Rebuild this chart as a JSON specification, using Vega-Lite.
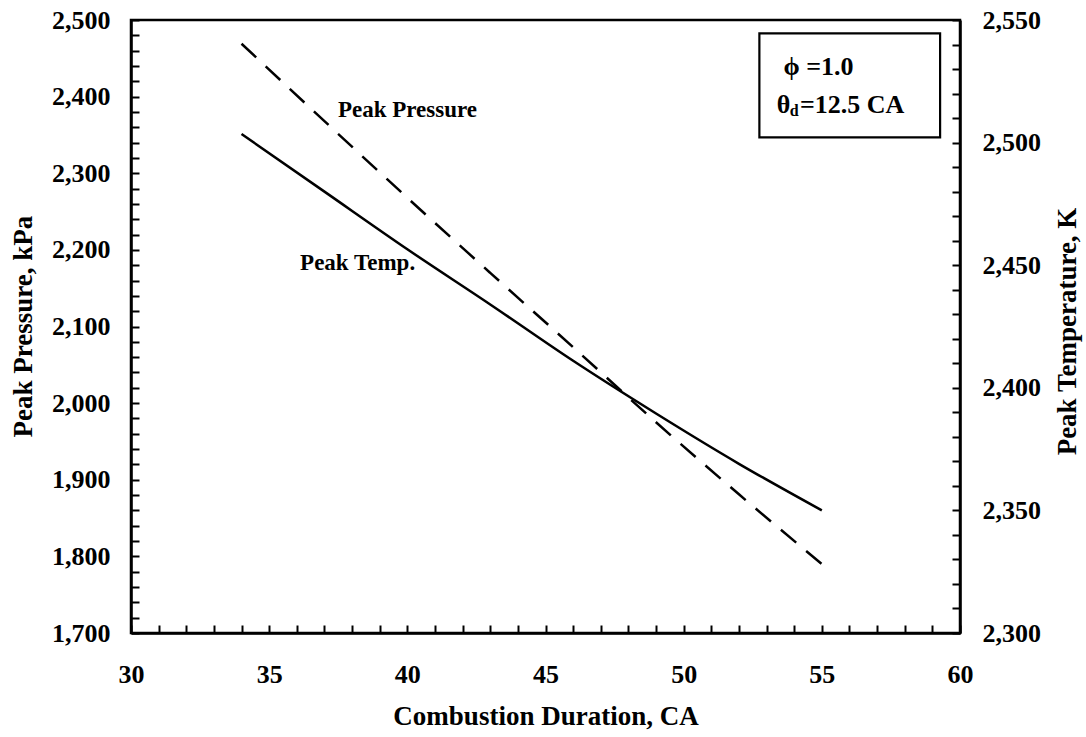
{
  "$schema": "https://vega.github.io/schema/vega-lite/v6.json",
  "width": 829,
  "height": 613,
  "autosize": "none",
  "padding": {"left": 131, "top": 20, "right": 126, "bottom": 104},
  "background": "white",
  "config": {
    "view": {"stroke": "black", "strokeWidth": 2.5},
    "font": "Liberation Serif",
    "axis": {
      "labelFont": "Liberation Serif", "labelFontWeight": "bold", "labelFontSize": 26, "labelColor": "black",
      "titleFont": "Liberation Serif", "titleFontWeight": "bold", "titleFontSize": 27, "titleColor": "black",
      "grid": false, "domainColor": "black", "domainWidth": 2.5,
      "tickColor": "black", "tickWidth": 2, "tickSize": -8, "tickCount": 200,
      "labelOverlap": false, "labelFlush": false, "labelBound": false
    }
  },
  "data": {"values": [
    {"duration": 34, "pressure": 2469, "temperature": 2503.5},
    {"duration": 37, "pressure": 2368, "temperature": 2480},
    {"duration": 40, "pressure": 2268, "temperature": 2456.5},
    {"duration": 43, "pressure": 2170, "temperature": 2434},
    {"duration": 46, "pressure": 2073, "temperature": 2411},
    {"duration": 49, "pressure": 1975, "temperature": 2389.5},
    {"duration": 52, "pressure": 1881, "temperature": 2369},
    {"duration": 55, "pressure": 1790, "temperature": 2350}
  ]},
  "layer": [
    {
      "layer": [
        {
          "mark": {"type": "line", "color": "black", "strokeWidth": 2.5, "strokeDash": [20, 13], "interpolate": "monotone"},
          "encoding": {
            "x": {"field": "duration", "type": "quantitative",
              "scale": {"domain": [30, 60], "nice": false, "zero": false},
              "axis": {
                "title": "Combustion Duration, CA",
                "tickCount": 200,
                "values": [30,31,32,33,34,35,36,37,38,39,40,41,42,43,44,45,46,47,48,49,50,51,52,53,54,55,56,57,58,59,60],
                "labelExpr": "datum.value % 5 === 0 ? format(datum.value, 'd') : ''",
                "labelPadding": 36,
                "titleX": 414.5, "titleY": 83, "titleBaseline": "middle", "titleAlign": "center"
              }},
            "y": {"field": "pressure", "type": "quantitative",
              "scale": {"domain": [1700, 2500], "nice": false, "zero": false},
              "axis": {
                "title": "Peak Pressure, kPa",
                "orient": "left",
                "tickCount": 200,
                "values": [1700,1720,1740,1760,1780,1800,1820,1840,1860,1880,1900,1920,1940,1960,1980,2000,2020,2040,2060,2080,2100,2120,2140,2160,2180,2200,2220,2240,2260,2280,2300,2320,2340,2360,2380,2400,2420,2440,2460,2480,2500],
                "labelExpr": "datum.value % 100 === 0 ? format(datum.value, ',') : ''",
                "labelPadding": 29,
                "titleX": -108, "titleY": 306, "titleAngle": 270, "titleBaseline": "middle", "titleAlign": "center"
              }}
          }
        },
        {
          "data": {"values": [{}]},
          "mark": {"type": "rect", "fill": "white", "stroke": "black", "strokeWidth": 2.2},
          "encoding": {
            "x": {"datum": 52.74, "type": "quantitative"},
            "x2": {"datum": 59.28},
            "y": {"datum": 2482.6, "type": "quantitative"},
            "y2": {"datum": 2346.9}
          }
        },
        {
          "data": {"values": [{"label": "Peak Pressure"}]},
          "mark": {"type": "text", "align": "left", "baseline": "middle", "fontSize": 23, "fontWeight": "bold", "font": "Liberation Serif", "color": "black"},
          "encoding": {
            "x": {"datum": 37.49, "type": "quantitative"},
            "y": {"datum": 2382.5, "type": "quantitative"},
            "text": {"field": "label"}
          }
        },
        {
          "data": {"values": [{"label": "Peak Temp."}]},
          "mark": {"type": "text", "align": "left", "baseline": "middle", "fontSize": 23, "fontWeight": "bold", "font": "Liberation Serif", "color": "black"},
          "encoding": {
            "x": {"datum": 36.12, "type": "quantitative"},
            "y": {"datum": 2182.9, "type": "quantitative"},
            "text": {"field": "label"}
          }
        },
        {
          "data": {"values": [{"label": "ϕ =1.0"}]},
          "mark": {"type": "text", "align": "left", "baseline": "middle", "fontSize": 26, "fontWeight": "bold", "font": "Liberation Serif", "color": "black"},
          "encoding": {
            "x": {"datum": 53.61, "type": "quantitative"},
            "y": {"datum": 2439, "type": "quantitative"},
            "text": {"field": "label"}
          }
        },
        {
          "data": {"values": [{"label": "θ"}]},
          "mark": {"type": "text", "align": "left", "baseline": "middle", "fontSize": 26, "fontWeight": "bold", "font": "Liberation Serif", "color": "black"},
          "encoding": {
            "x": {"datum": 53.37, "type": "quantitative"},
            "y": {"datum": 2389, "type": "quantitative"},
            "text": {"field": "label"}
          }
        },
        {
          "data": {"values": [{"label": "d"}]},
          "mark": {"type": "text", "align": "left", "baseline": "middle", "fontSize": 16, "fontWeight": "bold", "font": "Liberation Serif", "color": "black"},
          "encoding": {
            "x": {"datum": 53.84, "type": "quantitative"},
            "y": {"datum": 2381, "type": "quantitative"},
            "text": {"field": "label"}
          }
        },
        {
          "data": {"values": [{"label": "=12.5 CA"}]},
          "mark": {"type": "text", "align": "left", "baseline": "middle", "fontSize": 26, "fontWeight": "bold", "font": "Liberation Serif", "color": "black"},
          "encoding": {
            "x": {"datum": 54.21, "type": "quantitative"},
            "y": {"datum": 2389, "type": "quantitative"},
            "text": {"field": "label"}
          }
        }
      ]
    },
    {
      "layer": [
        {
          "mark": {"type": "line", "color": "black", "strokeWidth": 2.5, "interpolate": "monotone"},
          "encoding": {
            "x": {"field": "duration", "type": "quantitative"},
            "y": {"field": "temperature", "type": "quantitative",
              "scale": {"domain": [2300, 2550], "nice": false, "zero": false},
              "axis": {
                "title": "Peak Temperature, K",
                "orient": "right",
                "tickCount": 200,
                "values": [2300,2310,2320,2330,2340,2350,2360,2370,2380,2390,2400,2410,2420,2430,2440,2450,2460,2470,2480,2490,2500,2510,2520,2530,2540,2550],
                "labelExpr": "datum.value % 50 === 0 ? format(datum.value, ',') : ''",
                "labelPadding": 30,
                "titleX": 107, "titleY": 311, "titleAngle": 270, "titleBaseline": "middle", "titleAlign": "center"
              }}
          }
        }
      ]
    }
  ],
  "resolve": {"scale": {"y": "independent"}}
}
